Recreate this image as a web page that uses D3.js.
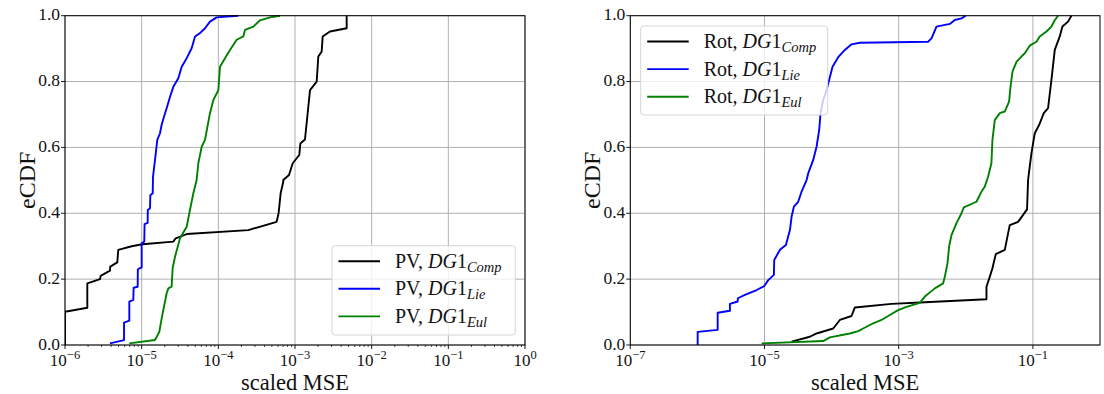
<!DOCTYPE html>
<html>
<head>
<meta charset="utf-8">
<script src="https://cdn.jsdelivr.net/npm/d3@7"></script>
<style>
  body { margin: 0; background: #fff; }
  svg text { font-family: "Liberation Serif", "DejaVu Serif", serif; fill: #111; }
</style>
</head>
<body>
<div id="chart"></div>
<script>
// x values are log10(scaled MSE), y values are the eCDF
var pvComp = [[-6,0],[-6,0.101],[-5.709,0.113],[-5.709,0.187],[-5.543,0.2],[-5.535,0.21],[-5.413,0.226],[-5.41,0.238],
  [-5.318,0.251],[-5.305,0.289],[-5.13,0.30],[-4.99,0.306],[-4.587,0.314],[-4.556,0.324],[-4.413,0.337],[-3.609,0.349],
  [-3.24,0.374],[-3.214,0.40],[-3.187,0.461],[-3.153,0.496],[-3.153,0.501],[-3.078,0.516],[-3.03,0.552],[-2.944,0.577],
  [-2.93,0.612],[-2.87,0.624],[-2.804,0.774],[-2.717,0.80],[-2.696,0.876],[-2.652,0.891],[-2.639,0.937],[-2.544,0.952],
  [-2.326,0.962],[-2.326,1.0]]
var pvLie = [[-5.413,0.005],[-5.23,0.015],[-5.23,0.068],[-5.161,0.074],[-5.161,0.132],[-5.109,0.137],[-5.105,0.174],
  [-5.052,0.177],[-5.05,0.23],[-5.0,0.236],[-5.0,0.309],[-4.966,0.314],[-4.962,0.367],[-4.922,0.371],[-4.92,0.41],
  [-4.891,0.415],[-4.887,0.455],[-4.856,0.461],[-4.852,0.511],[-4.826,0.562],[-4.796,0.623],[-4.761,0.643],[-4.74,0.668],
  [-4.709,0.693],[-4.674,0.719],[-4.63,0.754],[-4.587,0.784],[-4.522,0.81],[-4.478,0.845],[-4.413,0.871],[-4.348,0.901],
  [-4.304,0.937],[-4.239,0.947],[-4.174,0.962],[-4.109,0.982],[-4.022,0.995],[-3.74,1.0]]
var pvEul = [[-5.161,0.005],[-4.826,0.015],[-4.77,0.04],[-4.739,0.081],[-4.709,0.116],[-4.674,0.157],[-4.652,0.172],
  [-4.609,0.177],[-4.596,0.233],[-4.565,0.268],[-4.5,0.324],[-4.413,0.359],[-4.37,0.41],[-4.326,0.461],[-4.283,0.501],
  [-4.261,0.552],[-4.217,0.602],[-4.174,0.623],[-4.109,0.704],[-4.065,0.744],[-4.0,0.774],[-3.978,0.845],[-3.9,0.876],
  [-3.848,0.896],[-3.761,0.927],[-3.674,0.937],[-3.652,0.957],[-3.543,0.967],[-3.457,0.986],[-3.326,0.995],[-3.196,1.0]]

var rotComp = [[-4.597,0.01],[-4.324,0.025],[-4.224,0.035],[-3.976,0.05],[-3.877,0.076],[-3.703,0.088],[-3.653,0.114],
  [-3.107,0.125],[-2.685,0.129],[-1.692,0.139],[-1.692,0.177],[-1.643,0.207],[-1.603,0.233],[-1.553,0.276],[-1.419,0.289],
  [-1.345,0.364],[-1.221,0.374],[-1.087,0.412],[-1.072,0.501],[-1.06,0.521],[-1.022,0.582],[-0.972,0.643],[-0.908,0.668],
  [-0.838,0.704],[-0.774,0.719],[-0.724,0.805],[-0.674,0.896],[-0.6,0.937],[-0.56,0.967],[-0.476,0.982],[-0.426,1.0]]
var rotLie = [[-5.996,0],[-5.996,0.04],[-5.698,0.046],[-5.698,0.098],[-5.515,0.104],[-5.515,0.125],[-5.40,0.132],
  [-5.397,0.142],[-5.292,0.152],[-5.117,0.167],[-5.004,0.179],[-4.944,0.197],[-4.86,0.213],[-4.855,0.258],[-4.77,0.289],
  [-4.681,0.304],[-4.621,0.349],[-4.596,0.39],[-4.562,0.42],[-4.498,0.435],[-4.447,0.466],[-4.373,0.501],[-4.349,0.521],
  [-4.274,0.562],[-4.224,0.602],[-4.185,0.653],[-4.165,0.704],[-4.125,0.744],[-4.075,0.774],[-3.986,0.845],[-3.902,0.874],
  [-3.802,0.896],[-3.703,0.913],[-3.579,0.918],[-2.562,0.921],[-2.511,0.931],[-2.437,0.967],[-2.238,0.975],[-2.164,0.987],
  [-2.064,0.992],[-2.0,1.0]]
var rotEul = [[-5.043,0.005],[-4.125,0.012],[-4.026,0.023],[-3.728,0.035],[-3.603,0.042],[-3.53,0.05],[-3.38,0.066],
  [-3.256,0.076],[-3.132,0.091],[-3.008,0.106],[-2.883,0.116],[-2.685,0.128],[-2.611,0.147],[-2.462,0.172],[-2.338,0.187],
  [-2.313,0.207],[-2.273,0.248],[-2.249,0.299],[-2.213,0.334],[-2.139,0.37],[-2.064,0.40],[-2.03,0.418],[-1.841,0.435],
  [-1.766,0.466],[-1.717,0.481],[-1.668,0.511],[-1.618,0.552],[-1.603,0.623],[-1.568,0.683],[-1.494,0.704],[-1.419,0.709],
  [-1.355,0.739],[-1.334,0.784],[-1.304,0.83],[-1.245,0.86],[-1.17,0.876],[-1.121,0.886],[-1.047,0.909],[-0.947,0.921],
  [-0.898,0.937],[-0.798,0.952],[-0.724,0.967],[-0.674,0.986],[-0.625,1.0]]

var yTicks = [0, 0.2, 0.4, 0.6, 0.8, 1.0]
var leftExps = [-6, -5, -4, -3, -2, -1, 0]
var rightExps = [-7, -5, -3, -1]
var colors = ["#000000", "#0000ff", "#008000"]
var subs = ["Comp", "Lie", "Eul"]

var width = 1104, height = 394

var svg = d3.select("#chart").append("svg")
  .attr("width", width)
  .attr("height", height)

var y = d3.scaleLinear().domain([0, 1]).range([345, 15.7])

var panels = [
  {id: "l", x0: 65, x1: 525, dom: [1e-6, 1], exps: leftExps, minor: true,
   series: [pvComp, pvLie, pvEul], prefix: "PV, ", leg: {x: 332, y: 245.7, w: 183.3, h: 89.3}, yl: 27},
  {id: "r", x0: 630.3, x1: 1100, dom: [1e-7, 1], exps: rightExps, minor: false,
   series: [rotComp, rotLie, rotEul], prefix: "Rot, ", leg: {x: 640.7, y: 26, w: 187, h: 89}, yl: 592}
]

panels.forEach(function(p) {
  var x = d3.scaleLog().domain(p.dom).range([p.x0, p.x1])
  var g = svg.append("g")

  g.append("clipPath").attr("id", "clip-" + p.id)
    .append("rect")
    .attr("x", p.x0).attr("y", y(1) - 1)
    .attr("width", p.x1 - p.x0).attr("height", y(0) - y(1) + 1)

  // grid
  p.exps.forEach(function(e) {
    g.append("line")
      .attr("x1", x(Math.pow(10, e))).attr("x2", x(Math.pow(10, e)))
      .attr("y1", y(0)).attr("y2", y(1))
      .attr("stroke", "#b0b0b0").attr("stroke-width", 1)
  })
  yTicks.forEach(function(t) {
    g.append("line")
      .attr("x1", p.x0).attr("x2", p.x1)
      .attr("y1", y(t)).attr("y2", y(t))
      .attr("stroke", "#b0b0b0").attr("stroke-width", 1)
  })

  // curves
  var line = d3.line()
    .x(function(d) { return x(Math.pow(10, d[0])) })
    .y(function(d) { return y(d[1]) })
  p.series.forEach(function(s, i) {
    g.append("path")
      .datum(s)
      .attr("clip-path", "url(#clip-" + p.id + ")")
      .attr("fill", "none")
      .attr("stroke", colors[i])
      .attr("stroke-width", 1.9)
      .attr("stroke-linejoin", "round")
      .attr("d", line)
  })

  // frame
  g.append("rect")
    .attr("x", p.x0).attr("y", y(1))
    .attr("width", p.x1 - p.x0).attr("height", y(0) - y(1))
    .attr("fill", "none").attr("stroke", "#000").attr("stroke-width", 1)

  // minor ticks
  if (p.minor) {
    for (var e = -6; e < 0; e++) {
      for (var k = 2; k < 10; k++) {
        var xv = x(k * Math.pow(10, e))
        g.append("line").attr("x1", xv).attr("x2", xv)
          .attr("y1", y(0)).attr("y2", y(0) + 2)
          .attr("stroke", "#000").attr("stroke-width", 0.7)
      }
    }
  }

  // x ticks + labels
  p.exps.forEach(function(e) {
    var xv = x(Math.pow(10, e))
    g.append("line").attr("x1", xv).attr("x2", xv)
      .attr("y1", y(0)).attr("y2", y(0) + 4)
      .attr("stroke", "#000").attr("stroke-width", 0.9)
    var t = g.append("text")
      .attr("x", xv).attr("y", 366)
      .attr("text-anchor", "middle")
      .attr("font-size", 17)
    t.append("tspan").text("10")
    t.append("tspan").attr("dy", -7).attr("font-size", 12.5).text(e == 0 ? "0" : "\u2212" + (-e))
  })

  // y ticks + labels
  yTicks.forEach(function(v) {
    g.append("line").attr("x1", p.x0 - 4).attr("x2", p.x0)
      .attr("y1", y(v)).attr("y2", y(v))
      .attr("stroke", "#000").attr("stroke-width", 0.9)
    g.append("text")
      .attr("x", p.x0 - 5).attr("y", y(v) + 4.5)
      .attr("text-anchor", "end")
      .attr("font-size", 17.5)
      .text(v.toFixed(1))
  })

  // axis titles
  g.append("text")
    .attr("x", (p.x0 + p.x1) / 2).attr("y", 390)
    .attr("text-anchor", "middle")
    .attr("font-size", 22.5)
    .text("scaled MSE")
  g.append("text")
    .attr("transform", "translate(" + p.yl + "," + (y(0.5)) + ") rotate(-90)")
    .attr("text-anchor", "middle")
    .attr("dy", "0.35em")
    .attr("font-size", 24)
    .text("eCDF")

  // legend
  var L = p.leg
  g.append("rect")
    .attr("x", L.x).attr("y", L.y).attr("width", L.w).attr("height", L.h)
    .attr("rx", 3).attr("fill", "#fff").attr("fill-opacity", 0.8)
    .attr("stroke", "#d6d6d6").attr("stroke-width", 1)
  subs.forEach(function(s, i) {
    var cy = L.y + 15.5 + i * 27.6
    g.append("line")
      .attr("x1", L.x + 6.5).attr("x2", L.x + 48)
      .attr("y1", cy).attr("y2", cy)
      .attr("stroke", colors[i]).attr("stroke-width", 1.9)
    var t = g.append("text")
      .attr("x", L.x + 63).attr("y", cy + 6.5)
      .attr("font-size", 20)
    t.append("tspan").text(p.prefix)
    t.append("tspan").attr("font-style", "italic").text("DG")
    t.append("tspan").text("1")
    t.append("tspan").attr("font-style", "italic").attr("font-size", 14.5).attr("dy", 4).text(s)
  })
})
</script>
</body>
</html>
